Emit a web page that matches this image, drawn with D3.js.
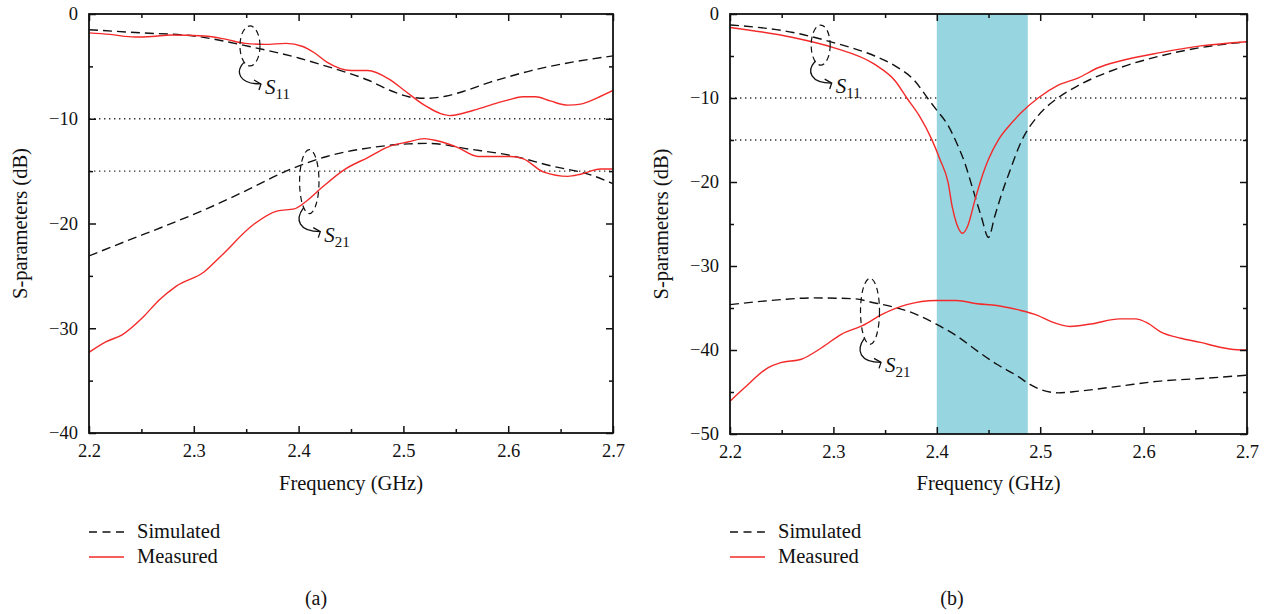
<!DOCTYPE html>
<html>
<head>
<meta charset="utf-8">
<script src="https://cdn.jsdelivr.net/npm/d3@7"></script>
<style>
  body { margin: 0; background: #fff; }
  svg { display: block; }
  svg text { font-family: "Liberation Serif", "DejaVu Serif", "Noto Serif", serif !important; fill: #111; }
</style>
</head>
<body>
<svg id="fig" width="1270" height="614" font-family="Liberation Serif, DejaVu Serif, serif"></svg>
<script>
// ---- Data: frequency (GHz) / S-parameter (dB) pairs ----

// Panel (a)
const aS11Sim = [[2.2,-1.5],[2.25,-1.8],[2.3,-2.1],[2.353,-3.1],[2.4,-4.2],[2.427,-5.0],[2.466,-6.3],[2.49,-7.4],[2.505,-7.9],[2.522,-8.05],[2.54,-7.85],[2.56,-7.3],[2.583,-6.5],[2.6,-6.0],[2.622,-5.4],[2.661,-4.6],[2.7,-4.0]];
const aS11Meas = [[2.2,-1.8],[2.22,-1.95],[2.244,-2.2],[2.26,-2.15],[2.279,-2.0],[2.31,-2.1],[2.33,-2.4],[2.349,-2.8],[2.368,-2.9],[2.388,-2.8],[2.404,-3.1],[2.415,-3.7],[2.427,-4.6],[2.45,-5.4],[2.466,-5.4],[2.486,-6.2],[2.501,-7.3],[2.52,-8.7],[2.544,-9.7],[2.556,-9.5],[2.57,-9.1],[2.583,-8.7],[2.6,-8.2],[2.614,-7.9],[2.626,-7.9],[2.64,-8.3],[2.657,-8.7],[2.669,-8.6],[2.685,-8.0],[2.7,-7.3]];
const aS21Sim = [[2.2,-23.1],[2.235,-21.7],[2.271,-20.3],[2.31,-18.7],[2.349,-16.9],[2.388,-15.0],[2.427,-13.6],[2.466,-12.8],[2.505,-12.4],[2.524,-12.35],[2.563,-12.9],[2.602,-13.5],[2.641,-14.5],[2.68,-15.4],[2.7,-16.2]];
const aS21Meas = [[2.2,-32.3],[2.216,-31.3],[2.232,-30.6],[2.251,-29.0],[2.267,-27.3],[2.283,-26.0],[2.31,-24.6],[2.326,-23.1],[2.357,-20.1],[2.38,-18.8],[2.396,-18.6],[2.407,-17.9],[2.423,-16.5],[2.443,-14.9],[2.466,-13.7],[2.485,-12.7],[2.505,-12.2],[2.52,-11.9],[2.532,-12.1],[2.551,-12.7],[2.571,-13.6],[2.583,-13.6],[2.602,-13.6],[2.614,-13.8],[2.634,-15.1],[2.657,-15.5],[2.669,-15.3],[2.688,-14.8],[2.7,-14.8]];

// Panel (b)
const bS11Sim = [[2.2,-1.3],[2.261,-2.2],[2.3,-3.4],[2.34,-5.0],[2.36,-6.2],[2.379,-8.0],[2.391,-10.0],[2.399,-11.3],[2.411,-13.3],[2.419,-15.3],[2.427,-17.7],[2.435,-20.9],[2.443,-24.1],[2.45,-26.6],[2.456,-24.1],[2.462,-21.7],[2.47,-18.9],[2.482,-15.1],[2.498,-12.1],[2.517,-10.0],[2.537,-8.5],[2.577,-6.4],[2.616,-5.0],[2.655,-4.0],[2.7,-3.3]];
const bS11Meas = [[2.2,-1.6],[2.261,-2.8],[2.3,-4.0],[2.34,-6.0],[2.36,-8.0],[2.371,-10.0],[2.383,-12.1],[2.395,-14.9],[2.403,-17.3],[2.411,-20.1],[2.415,-23.0],[2.419,-24.9],[2.425,-26.1],[2.43,-25.2],[2.437,-22.1],[2.445,-18.9],[2.45,-17.3],[2.46,-14.9],[2.47,-13.3],[2.482,-11.7],[2.498,-10.0],[2.517,-8.5],[2.537,-7.6],[2.556,-6.4],[2.577,-5.6],[2.616,-4.6],[2.655,-3.8],[2.7,-3.3]];
const bS21Sim = [[2.2,-34.6],[2.24,-34.1],[2.281,-33.8],[2.32,-33.9],[2.34,-34.4],[2.348,-34.6],[2.379,-35.7],[2.399,-36.9],[2.419,-38.3],[2.439,-40.1],[2.458,-41.7],[2.478,-43.1],[2.49,-44.1],[2.517,-45.1],[2.537,-44.9],[2.577,-44.3],[2.616,-43.7],[2.655,-43.4],[2.7,-43.0]];
const bS21Meas = [[2.2,-46.1],[2.214,-44.5],[2.237,-42.1],[2.249,-41.5],[2.269,-41.1],[2.289,-39.7],[2.308,-38.1],[2.328,-37.1],[2.348,-35.7],[2.371,-34.6],[2.399,-34.1],[2.419,-34.1],[2.439,-34.5],[2.458,-34.7],[2.478,-35.2],[2.498,-35.9],[2.51,-36.6],[2.529,-37.2],[2.549,-36.9],[2.577,-36.3],[2.592,-36.3],[2.604,-36.8],[2.616,-37.8],[2.636,-38.6],[2.655,-39.1],[2.675,-39.7],[2.694,-40.0],[2.7,-40.0]];

// Axis ticks and reference levels
const freqTicks = [2.2, 2.3, 2.4, 2.5, 2.6, 2.7];
const freqMinor = [2.25, 2.35, 2.45, 2.55, 2.65];
const aDbTicks = [0, -10, -20, -30, -40];
const aDbMinor = [-5, -15, -25, -35];
const bDbTicks = [0, -10, -20, -30, -40, -50];
const bDbMinor = [-5, -15, -25, -35, -45];
const refLevels = [-10, -15];
const bBand = [2.4, 2.488];

const legendLabels = ["Simulated", "Measured"];

// Annotation ellipses: [freq, dB, rx, ry, subscript]
const aNotes = [[2.3536, -3.05, 10, 20, "11"], [2.4102, -16.0, 9.7, 32, "21"]];
const bNotes = [[2.2877, -3.7, 9.5, 20, "11"], [2.3354, -35.4, 9.5, 33, "21"]];

// ---- Drawing ----
const RED = "#f42a2a";
const FONT = "Liberation Serif, DejaVu Serif, serif";
const svg = d3.select("#fig");

const panels = [
  { id: "a", x0: 89, x1: 613, y0: 14, y1: 433, yDom: [-40, 0], yTicks: aDbTicks, yMinor: aDbMinor,
    sim: [aS11Sim, aS21Sim], meas: [aS11Meas, aS21Meas], notes: aNotes, band: null, caption: "(a)", capX: 316 },
  { id: "b", x0: 730, x1: 1247, y0: 14, y1: 434, yDom: [-50, 0], yTicks: bDbTicks, yMinor: bDbMinor,
    sim: [bS11Sim, bS21Sim], meas: [bS11Meas, bS21Meas], notes: bNotes, band: bBand, caption: "(b)", capX: 952 }
];

panels.forEach(p => {
  const x = d3.scaleLinear().domain([2.2, 2.7]).range([p.x0, p.x1]);
  const y = d3.scaleLinear().domain(p.yDom).range([p.y1, p.y0]);
  const g = svg.append("g").attr("font-family", FONT);

  g.append("clipPath").attr("id", "clip-" + p.id)
    .append("rect").attr("x", p.x0).attr("y", p.y0)
    .attr("width", p.x1 - p.x0).attr("height", p.y1 - p.y0);

  const plot = g.append("g").attr("clip-path", `url(#clip-${p.id})`);

  // reference levels
  plot.selectAll("line.ref").data(refLevels).join("line")
    .attr("x1", p.x0).attr("x2", p.x1)
    .attr("y1", d => y(d)).attr("y2", d => y(d))
    .attr("stroke", "#333").attr("stroke-width", 1.3)
    .attr("stroke-dasharray", "1.4,3.6");

  // highlighted band
  if (p.band) {
    plot.append("rect")
      .attr("x", x(p.band[0])).attr("width", x(p.band[1]) - x(p.band[0]))
      .attr("y", p.y0).attr("height", p.y1 - p.y0)
      .attr("fill", "#97d5e0");
  }

  const line = d3.line().x(d => x(d[0])).y(d => y(d[1])).curve(d3.curveMonotoneX);

  p.sim.forEach(s => plot.append("path").attr("d", line(s))
    .attr("fill", "none").attr("stroke", "#111").attr("stroke-width", 1.4)
    .attr("stroke-dasharray", "9,5"));
  p.meas.forEach(s => plot.append("path").attr("d", line(s))
    .attr("fill", "none").attr("stroke", RED).attr("stroke-width", 1.4));

  // axes: inward ticks on all four sides
  const fmtY = d3.format("d"), fmtX = d3.format(".1f");
  const axes = [
    [d3.axisBottom(x).tickValues(freqTicks).tickFormat(fmtX).tickSizeInner(-7).tickPadding(11), `translate(0,${p.y1})`],
    [d3.axisBottom(x).tickValues(freqMinor).tickFormat("").tickSizeInner(-4), `translate(0,${p.y1})`],
    [d3.axisTop(x).tickValues(freqTicks).tickFormat("").tickSizeInner(-7), `translate(0,${p.y0})`],
    [d3.axisTop(x).tickValues(freqMinor).tickFormat("").tickSizeInner(-4), `translate(0,${p.y0})`],
    [d3.axisLeft(y).tickValues(p.yTicks).tickFormat(fmtY).tickSizeInner(-7).tickPadding(11), `translate(${p.x0},0)`],
    [d3.axisLeft(y).tickValues(p.yMinor).tickFormat("").tickSizeInner(-4), `translate(${p.x0},0)`],
    [d3.axisRight(y).tickValues(p.yTicks).tickFormat("").tickSizeInner(-7), `translate(${p.x1},0)`],
    [d3.axisRight(y).tickValues(p.yMinor).tickFormat("").tickSizeInner(-4), `translate(${p.x1},0)`]
  ];
  axes.forEach(([ax, tr]) => {
    const a = g.append("g").attr("transform", tr).call(ax.tickSizeOuter(0));
    a.attr("font-family", FONT).attr("font-size", 18.5);
    a.select(".domain").remove();
    a.selectAll(".tick line").attr("stroke", "#111").attr("stroke-width", 1.5);
    a.selectAll("text").attr("fill", "#111");
  });

  g.append("rect").attr("x", p.x0).attr("y", p.y0)
    .attr("width", p.x1 - p.x0).attr("height", p.y1 - p.y0)
    .attr("fill", "none").attr("stroke", "#111").attr("stroke-width", 1.8);

  // axis titles
  g.append("text").attr("x", (p.x0 + p.x1) / 2).attr("y", 490)
    .attr("text-anchor", "middle").attr("font-size", 20.5).text("Frequency (GHz)");
  g.append("text")
    .attr("transform", `translate(${p.x0 - 62},${(p.y0 + p.y1) / 2}) rotate(-90)`)
    .attr("text-anchor", "middle").attr("font-size", 20.5).text("S-parameters (dB)");

  // annotations: dashed ellipse, hooked arrow, S-label
  p.notes.forEach(([f, v, rx, ry, sub]) => {
    const cx = x(f), cy = y(v);
    const a = g.append("g").attr("transform", `translate(${cx},${cy})`);
    a.append("ellipse").attr("rx", rx).attr("ry", ry)
      .attr("fill", "none").attr("stroke", "#111").attr("stroke-width", 1.2)
      .attr("stroke-dasharray", "6,4");
    const tx = 11, ty = ry + 18;
    a.append("path")
      .attr("d", `M${-rx * 0.6},${ry * 0.82} C${-rx * 1.5},${ry + 6} ${-rx * 1.1},${ry + 18} ${tx},${ty}`)
      .attr("fill", "none").attr("stroke", "#111").attr("stroke-width", 1.3);
    a.append("path")
      .attr("d", `M${tx - 7},${ty - 4} L${tx},${ty} L${tx - 2},${ty + 6}`)
      .attr("fill", "none").attr("stroke", "#111").attr("stroke-width", 1.3);
    const t = a.append("text").attr("x", tx + 4).attr("y", ty + 10).attr("font-size", 21);
    t.append("tspan").attr("font-style", "italic").text("S");
    t.append("tspan").attr("font-size", 15).attr("dy", 5).text(sub);
  });

  // legend
  const leg = g.append("g").attr("transform", `translate(${p.x0},532)`);
  legendLabels.forEach((lab, i) => {
    const row = leg.append("g").attr("transform", `translate(0,${i * 25})`);
    row.append("line").attr("x1", 0).attr("x2", 35).attr("y1", 0).attr("y2", 0)
      .attr("stroke", i === 0 ? "#111" : RED).attr("stroke-width", 1.4)
      .attr("stroke-dasharray", i === 0 ? "8,5.5" : null);
    row.append("text").attr("x", 48).attr("y", 6).attr("font-size", 20.5).text(lab);
  });

  g.append("text").attr("x", p.capX).attr("y", 605)
    .attr("text-anchor", "middle").attr("font-size", 20).text(p.caption);
});
</script>
</body>
</html>
